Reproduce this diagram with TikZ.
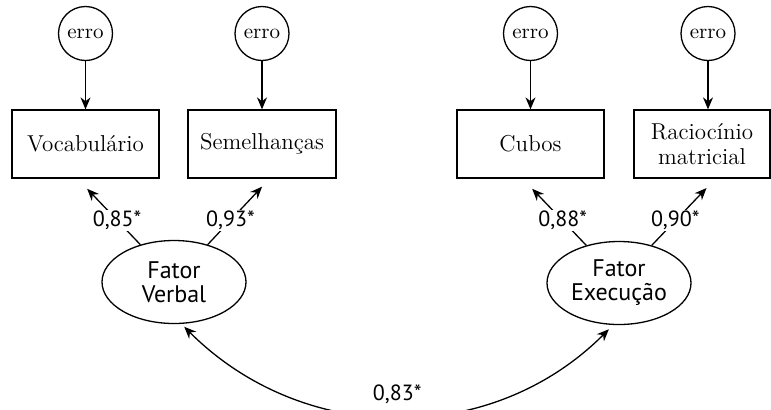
\documentclass[tikz,border=0pt]{standalone}
\usepackage{fontspec}
\newfontfamily\lblfont{PT Sans}
\usetikzlibrary{arrows.meta,shapes.geometric}
\tikzset{
  erro/.style={draw,circle,minimum size=27pt,inner sep=0pt,font=\fontsize{10.5}{12}\selectfont},
  var/.style={draw,rectangle,minimum width=73.5pt,minimum height=34pt,inner sep=2pt,align=center,font=\fontsize{11.5}{12.5}\selectfont},
  fator/.style={draw,ellipse,minimum width=72pt,minimum height=41.5pt,inner sep=0pt,align=center,font=\lblfont\fontsize{12}{12}\selectfont},
  carga/.style={fill=white,inner sep=.5pt,font=\lblfont\fontsize{11}{12}\selectfont},
}
\begin{document}
\begin{tikzpicture}[x=.5pt,y=-.5pt,line width=.65pt,>={Stealth[length=6pt,width=5pt]}]
    \useasboundingbox (0,0) rectangle (771,409);
    \clip (0,0) rectangle (771,409);
    % erros
    \node[erro] (e1) at (85.5,33.5) {erro};
    \node[erro] (e2) at (262,33.5) {erro};
    \node[erro] (e3) at (530.5,33.5) {erro};
    \node[erro] (e4) at (708,33.5) {erro};
    % subtestes
    \node[var] (voc) at (85.5,144) {Vocabulário};
    \node[var,minimum width=74pt] (sem) at (262,144) {Semelhanças};
    \node[var] (cub) at (530.5,144) {Cubos};
    \node[var,minimum width=68pt] (rac) at (702,144) {Raciocínio\\matricial};
    % fatores
    \node[fator] (fv) at (174,282) {Fator\\Verbal};
    \node[fator] (fe) at (619,283) {Fator\\Execução};
    \draw[->] (e1) -- (voc);
    \draw[->] (e2) -- (sem);
    \draw[->] (e3) -- (cub);
    \draw[->] (e4) -- (e4 |- rac.north);
    \draw[->,shorten >=7pt] (fv.132) -- ([xshift=-4pt]voc.south) node[carga,pos=.37] (c1) {0,85*};
    \draw[->,shorten >=5.5pt] (fv.48) -- ([xshift=3.8pt]sem.south) node[carga,pos=.37] (c2) {0,93*};
    \draw[->,shorten >=7pt] (fe.131) -- ([xshift=-4pt]cub.south) node[carga,pos=.37] (c3) {0,88*};
    \draw[->,shorten >=6.5pt] (fe.49) -- ([xshift=6.75pt]rac.south) node[carga,pos=.37] (c4) {0,90*};
    \draw[<->,shorten <=2pt,shorten >=3pt] (fv.-80) .. controls +(122,122) and +(-122,122) .. (fe.-98)
        node[carga,pos=.5,yshift=11pt] (r) {0,83*};
\end{tikzpicture}
\end{document}
